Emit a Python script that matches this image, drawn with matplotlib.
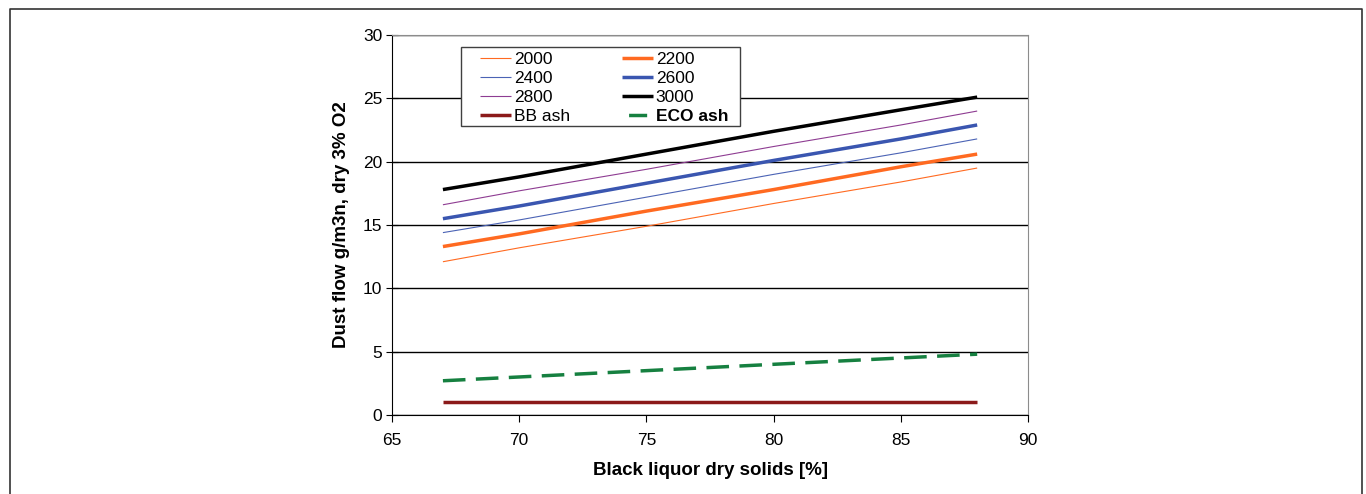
import matplotlib.pyplot as plt
from matplotlib.lines import Line2D
from matplotlib.patches import Rectangle

plt.rcParams["font.family"] = ["Liberation Sans", "DejaVu Sans"]

# black liquor dry solids [%]
dry_solids = [67, 70, 75, 80, 85, 88]

# dust flow g/m3n, dry 3% O2
dust_2000 = [12.1, 13.2, 14.9, 16.7, 18.4, 19.5]
dust_2200 = [13.3, 14.3, 16.1, 17.8, 19.6, 20.6]
dust_2400 = [14.4, 15.4, 17.2, 19.0, 20.7, 21.8]
dust_2600 = [15.5, 16.5, 18.3, 20.1, 21.8, 22.9]
dust_2800 = [16.6, 17.7, 19.4, 21.2, 22.9, 24.0]
dust_3000 = [17.8, 18.8, 20.6, 22.4, 24.1, 25.1]
bb_ash = [1.0, 1.0, 1.0, 1.0, 1.0, 1.0]
eco_ash = [2.7, 3.0, 3.5, 4.0, 4.5, 4.8]

# legend fills column-wise, so order is col 1 then col 2
series = [
    ("2000", dust_2000, dict(color="#FF6A21", lw=0.8)),
    ("2400", dust_2400, dict(color="#4B63B5", lw=0.8)),
    ("2800", dust_2800, dict(color="#8E3C92", lw=0.8)),
    ("BB ash", bb_ash, dict(color="#8B1A1A", lw=2.5)),
    ("2200", dust_2200, dict(color="#FF6A21", lw=2.5)),
    ("2600", dust_2600, dict(color="#3A56B0", lw=2.5)),
    ("3000", dust_3000, dict(color="black", lw=2.5)),
    ("ECO ash", eco_ash, dict(color="#168040", lw=2.5, ls=(0, (6.5, 3)))),
]

fig = plt.figure(figsize=(13.66, 4.94), dpi=100)
ax = fig.add_axes([0.287, 0.16, 0.4656, 0.769])

handles = []
for name, vals, style in series:
    (h,) = ax.plot(dry_solids, vals, label=name, solid_capstyle="butt", **style)
    handles.append(h)

# the legend shows a single centred dash for the dashed series
eco_style = dict(series[-1][2])
eco_style["ls"] = (23.3, (5.2, 20))
handles[-1] = Line2D([], [], solid_capstyle="butt", **eco_style)

ax.set_xlim(65, 90)
ax.set_ylim(0, 30)
ax.set_xticks(range(65, 91, 5))
ax.set_yticks(range(0, 31, 5))
ax.grid(axis="y", color="black", lw=1.0)
ax.set_axisbelow(True)

for s in ("top", "right"):
    ax.spines[s].set_color("#8c8c8c")
for s in ("left", "bottom"):
    ax.spines[s].set_color("black")
ax.tick_params(axis="y", direction="inout", length=8, labelsize=12.5, pad=3)
ax.tick_params(axis="x", direction="out", length=5, labelsize=12.5, pad=8)

ax.set_ylabel("Dust flow g/m3n, dry 3% O2", fontsize=13.5, fontweight="bold", labelpad=9)
ax.set_xlabel("Black liquor dry solids [%]", fontsize=13.5, fontweight="bold", labelpad=10)

# legend box drawn separately so the inner padding can match
box = Rectangle((0.108, 0.76), 0.439, 0.208, transform=ax.transAxes, facecolor="white",
                edgecolor="#404040", lw=1.0, zorder=4, clip_on=False)
ax.add_patch(box)
leg = ax.legend(
    handles=handles,
    labels=[s[0] for s in series],
    ncol=2,
    loc="upper left",
    bbox_to_anchor=(0.138, 0.955),
    fontsize=12.5,
    frameon=False,
    handlelength=1.8,
    handletextpad=0.15,
    columnspacing=3.0,
    borderaxespad=0,
    borderpad=0,
    labelspacing=0.22,
)
leg.set_zorder(5)
for t in leg.get_texts():
    if t.get_text() == "ECO ash":
        t.set_fontweight("bold")

# frame around the whole figure (open at the bottom)
x0, x1, y1 = 10 / 1366, 1362 / 1366, 1 - 9 / 494
fig.add_artist(Line2D([x0, x0, x1, x1], [0, y1, y1, 0], transform=fig.transFigure,
                      color="#333333", lw=1.2))

fig.savefig("out.png", dpi=100)
